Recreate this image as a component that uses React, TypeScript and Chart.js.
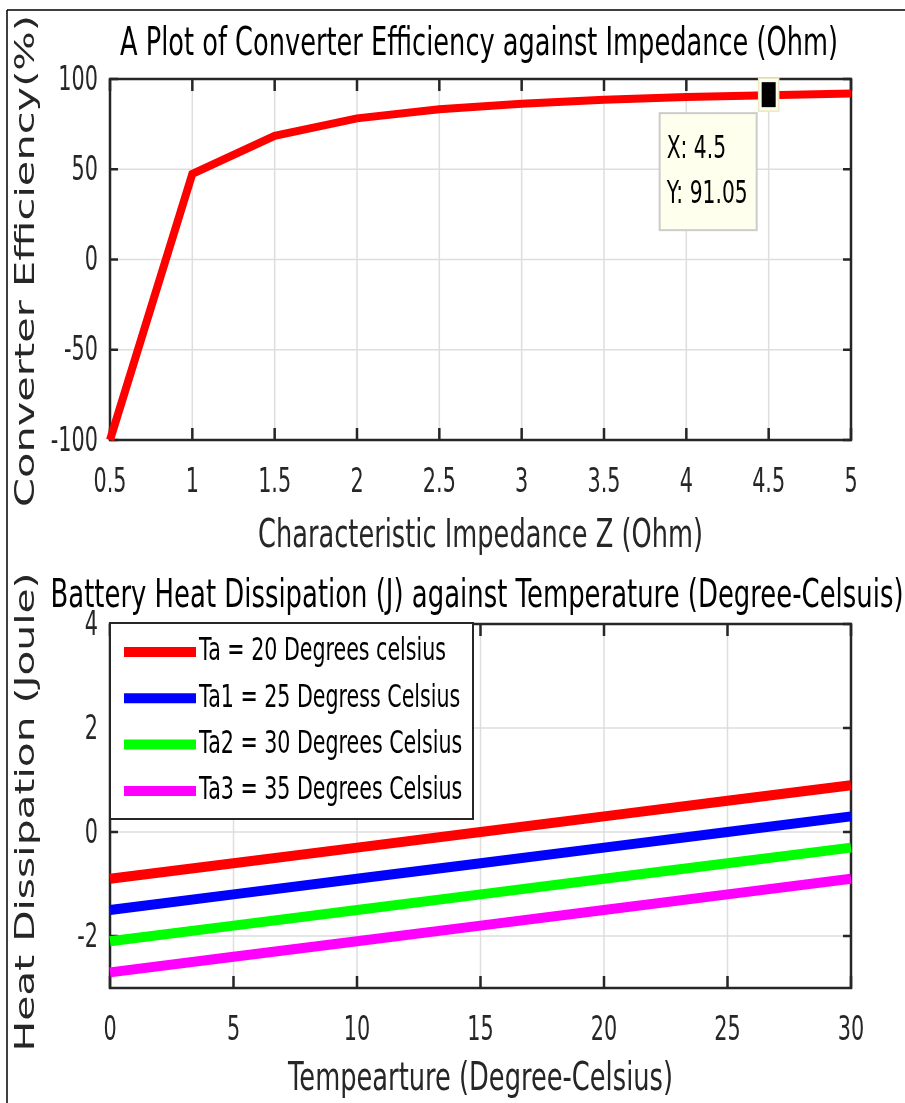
import React, { useEffect, useRef } from "react";
import { Chart, registerables } from "chart.js";

Chart.register(...registerables);

// ---------- data ----------
const impedance = [0.5, 1, 1.5, 2, 2.5, 3, 3.5, 4, 4.5, 5];
const efficiency = [-100, 47.5, 68.5, 78.2, 83.2, 86.3, 88.5, 90.0, 91.05, 91.9];
const effXTicks = [0.5, 1, 1.5, 2, 2.5, 3, 3.5, 4, 4.5, 5];
const effYTicks = [-100, -50, 0, 50, 100];
const effTip = { x: 4.5, y: 91.05 };

const temperature = [0, 5, 10, 15, 20, 25, 30];
const heatTa = [-0.9, -0.6, -0.3, 0, 0.3, 0.6, 0.9];
const heatTa1 = [-1.5, -1.2, -0.9, -0.6, -0.3, 0, 0.3];
const heatTa2 = [-2.1, -1.8, -1.5, -1.2, -0.9, -0.6, -0.3];
const heatTa3 = [-2.7, -2.4, -2.1, -1.8, -1.5, -1.2, -0.9];
const heatLabels = [
  "Ta = 20 Degrees celsius",
  "Ta1 = 25 Degress Celsius",
  "Ta2 = 30 Degrees Celsius",
  "Ta3 = 35 Degrees Celsius",
];
const heatColors = ["#ff0000", "#0000ff", "#00ff00", "#ff00ff"];
const heatXTicks = [0, 5, 10, 15, 20, 25, 30];
const heatYTicks = [-2, 0, 2, 4];

// ---------- styling helpers ----------
const S = 1.58; // vertical stretch of all text
const INK = "#262626";
const FONT = '"DejaVu Sans", sans-serif';

type TOpts = { align?: CanvasTextAlign; w?: number; rot?: boolean; color?: string };

function drawText(ctx: CanvasRenderingContext2D, s: string, x: number, y: number, size: number, o: TOpts = {}) {
  ctx.save();
  ctx.font = `${size}px ${FONT}`;
  ctx.fillStyle = o.color ?? "#000";
  ctx.textBaseline = "middle";
  ctx.textAlign = o.align ?? "center";
  ctx.translate(x, y);
  const m = ctx.measureText(s).width;
  if (o.rot) {
    ctx.rotate(-Math.PI / 2);
    ctx.scale(o.w ? o.w / m : S, 1);
  } else {
    ctx.scale(o.w ? o.w / m : 1, S);
  }
  ctx.fillText(s, 0, 0);
  ctx.restore();
}

function fmt(v: number) {
  return v < 0 ? "-" + String(-v) : String(v);
}

type Cfg = {
  xTicks: number[];
  yTicks: number[];
  title: string;
  titleY: number;
  titleW: number;
  titleX: number;
  xlabel: string;
  xlabelY: number;
  xlabelW: number;
  ylabel: string;
  ylabelY: number;
  ylabelW: number;
  topFrame: boolean;
  tip?: { x: number; y: number };
  legend?: boolean;
};

function decor(cfg: Cfg) {
  return {
    id: "decor",
    beforeDatasetsDraw(chart: any) {
      const { ctx, chartArea: a, scales } = chart;
      const xs = scales.x;
      const ys = scales.y;
      ctx.save();
      ctx.strokeStyle = "#dedede";
      ctx.lineWidth = 1.5;
      ctx.beginPath();
      for (const v of cfg.xTicks) {
        const p = xs.getPixelForValue(v);
        ctx.moveTo(p, a.top);
        ctx.lineTo(p, a.bottom);
      }
      for (const v of cfg.yTicks) {
        const p = ys.getPixelForValue(v);
        ctx.moveTo(a.left, p);
        ctx.lineTo(a.right, p);
      }
      ctx.stroke();
      ctx.strokeStyle = INK;
      ctx.lineWidth = 2.5;
      ctx.strokeRect(a.left, a.top, a.right - a.left, a.bottom - a.top);
      ctx.beginPath();
      for (const v of cfg.xTicks) {
        const p = xs.getPixelForValue(v);
        ctx.moveTo(p, a.bottom);
        ctx.lineTo(p, a.bottom - 12);
        ctx.moveTo(p, a.top);
        ctx.lineTo(p, a.top + 12);
      }
      for (const v of cfg.yTicks) {
        const p = ys.getPixelForValue(v);
        ctx.moveTo(a.left, p);
        ctx.lineTo(a.left + 8, p);
        ctx.moveTo(a.right, p);
        ctx.lineTo(a.right - 8, p);
      }
      ctx.stroke();
      ctx.restore();
    },
    afterDraw(chart: any) {
      const { ctx, chartArea: a, scales } = chart;
      const xs = scales.x;
      const ys = scales.y;
      ctx.save();
      ctx.strokeStyle = "#000";
      ctx.lineWidth = 1.5;
      ctx.beginPath();
      ctx.moveTo(7, cfg.topFrame ? 10 : 0);
      ctx.lineTo(7, chart.height);
      if (cfg.topFrame) {
        ctx.moveTo(7, 10);
        ctx.lineTo(chart.width, 10);
      }
      ctx.stroke();
      ctx.restore();

      for (const v of cfg.xTicks) {
        drawText(ctx, fmt(v), xs.getPixelForValue(v), a.bottom + 43, 20.8, { color: INK });
      }
      for (const v of cfg.yTicks) {
        drawText(ctx, fmt(v), a.left - 12, ys.getPixelForValue(v) + 2, 20.8, { align: "right", color: INK });
      }
      drawText(ctx, cfg.title, cfg.titleX, cfg.titleY, 25, { w: cfg.titleW });
      drawText(ctx, cfg.xlabel, (a.left + a.right) / 2, cfg.xlabelY, 25, { w: cfg.xlabelW, color: INK });
      drawText(ctx, cfg.ylabel, 27, cfg.ylabelY, 27, { rot: true, w: cfg.ylabelW, color: INK });

      if (cfg.tip) {
        const px = xs.getPixelForValue(cfg.tip.x);
        const py = ys.getPixelForValue(cfg.tip.y);
        ctx.save();
        ctx.fillStyle = "#fffff0";
        ctx.strokeStyle = "#ece8c0";
        ctx.lineWidth = 1.5;
        ctx.fillRect(px - 10, py - 17, 20, 33);
        ctx.strokeRect(px - 10, py - 17, 20, 33);
        ctx.fillStyle = "#000";
        ctx.fillRect(px - 7, py - 13, 14, 25);
        const bx = px - 109;
        const by = py + 18;
        ctx.fillStyle = "#ffffee";
        ctx.strokeStyle = "#cccccc";
        ctx.lineWidth = 2;
        ctx.fillRect(bx, by, 97, 117);
        ctx.strokeRect(bx, by, 97, 117);
        ctx.restore();
        drawText(ctx, "X: " + cfg.tip.x, bx + 7, by + 37, 20.3, { align: "left" });
        drawText(ctx, "Y: " + cfg.tip.y.toFixed(2), bx + 7, by + 82, 20.3, { align: "left" });
      }

      if (cfg.legend) {
        const ds = chart.data.datasets;
        const lx = a.left;
        const ly = a.top - 1;
        ctx.save();
        ctx.fillStyle = "#fff";
        ctx.fillRect(lx, ly, 363, 196);
        ctx.strokeStyle = INK;
        ctx.lineWidth = 2;
        ctx.strokeRect(lx, ly, 363, 196);
        ds.forEach((d: any, i: number) => {
          const cy = ly + 29 + i * 46.3;
          ctx.strokeStyle = d.borderColor;
          ctx.lineWidth = 10;
          ctx.beginPath();
          ctx.moveTo(lx + 14, cy);
          ctx.lineTo(lx + 86, cy);
          ctx.stroke();
        });
        ctx.restore();
        ds.forEach((d: any, i: number) => {
          const cy = ly + 29 + i * 46.3;
          drawText(ctx, d.label, lx + 89, cy, 20.6, { align: "left" });
        });
      }
    },
  };
}

function EffChart() {
  const ref = useRef<HTMLCanvasElement>(null);
  useEffect(() => {
    const chart = new Chart(ref.current as HTMLCanvasElement, {
      type: "line",
      data: {
        datasets: [
          {
            label: "Efficiency",
            data: impedance.map((x, i) => ({ x, y: efficiency[i] })),
            borderColor: "#ff0000",
            borderWidth: 8,
            pointRadius: 0,
            tension: 0,
            clip: false as any,
          } as any,
        ],
      },
      options: {
        responsive: false,
        animation: false,
        events: [],
        layout: { padding: { left: 110, top: 79, right: 54, bottom: 120 } },
        scales: {
          x: { type: "linear", display: false, min: 0.5, max: 5 },
          y: { type: "linear", display: false, min: -100, max: 100 },
        },
        plugins: { legend: { display: false }, tooltip: { enabled: false } },
      },
      plugins: [
        decor({
          xTicks: effXTicks,
          yTicks: effYTicks,
          title: "A Plot of Converter Efficiency against Impedance (Ohm)",
          titleX: 479,
          titleY: 45,
          titleW: 718,
          xlabel: "Characteristic Impedance Z (Ohm)",
          xlabelY: 537,
          xlabelW: 445,
          ylabel: "Converter Efficiency(%)",
          ylabelY: 261,
          ylabelW: 492,
          topFrame: true,
          tip: effTip,
        }),
      ],
    });
    return () => chart.destroy();
  }, []);
  return <canvas ref={ref} width={905} height={560} style={{ display: "block" }} />;
}

function HeatChart() {
  const ref = useRef<HTMLCanvasElement>(null);
  useEffect(() => {
    const series = [heatTa, heatTa1, heatTa2, heatTa3];
    const chart = new Chart(ref.current as HTMLCanvasElement, {
      type: "line",
      data: {
        datasets: series.map((s, k) => ({
          label: heatLabels[k],
          data: temperature.map((x, i) => ({ x, y: s[i] })),
          borderColor: heatColors[k],
          borderWidth: 10,
          pointRadius: 0,
          tension: 0,
          borderCapStyle: "butt",
          clip: false as any,
        })) as any,
      },
      options: {
        responsive: false,
        animation: false,
        events: [],
        layout: { padding: { left: 110, top: 64, right: 54, bottom: 115 } },
        scales: {
          x: { type: "linear", display: false, min: 0, max: 30 },
          y: { type: "linear", display: false, min: -3, max: 4 },
        },
        plugins: { legend: { display: false }, tooltip: { enabled: false } },
      },
      plugins: [
        decor({
          xTicks: heatXTicks,
          yTicks: heatYTicks,
          title: "Battery Heat Dissipation (J) against Temperature (Degree-Celsuis)",
          titleX: 477,
          titleY: 37,
          titleW: 853,
          xlabel: "Tempearture (Degree-Celsius)",
          xlabelY: 520,
          xlabelW: 385,
          ylabel: "Heat Dissipation (Joule)",
          ylabelY: 252,
          ylabelW: 479,
          topFrame: false,
          legend: true,
        }),
      ],
    });
    return () => chart.destroy();
  }, []);
  return <canvas ref={ref} width={905} height={543} style={{ display: "block" }} />;
}

export default function App() {
  return (
    <div style={{ position: "absolute", left: 0, top: 0, width: 905, height: 1103, background: "#fff" }}>
      <EffChart />
      <HeatChart />
    </div>
  );
}
